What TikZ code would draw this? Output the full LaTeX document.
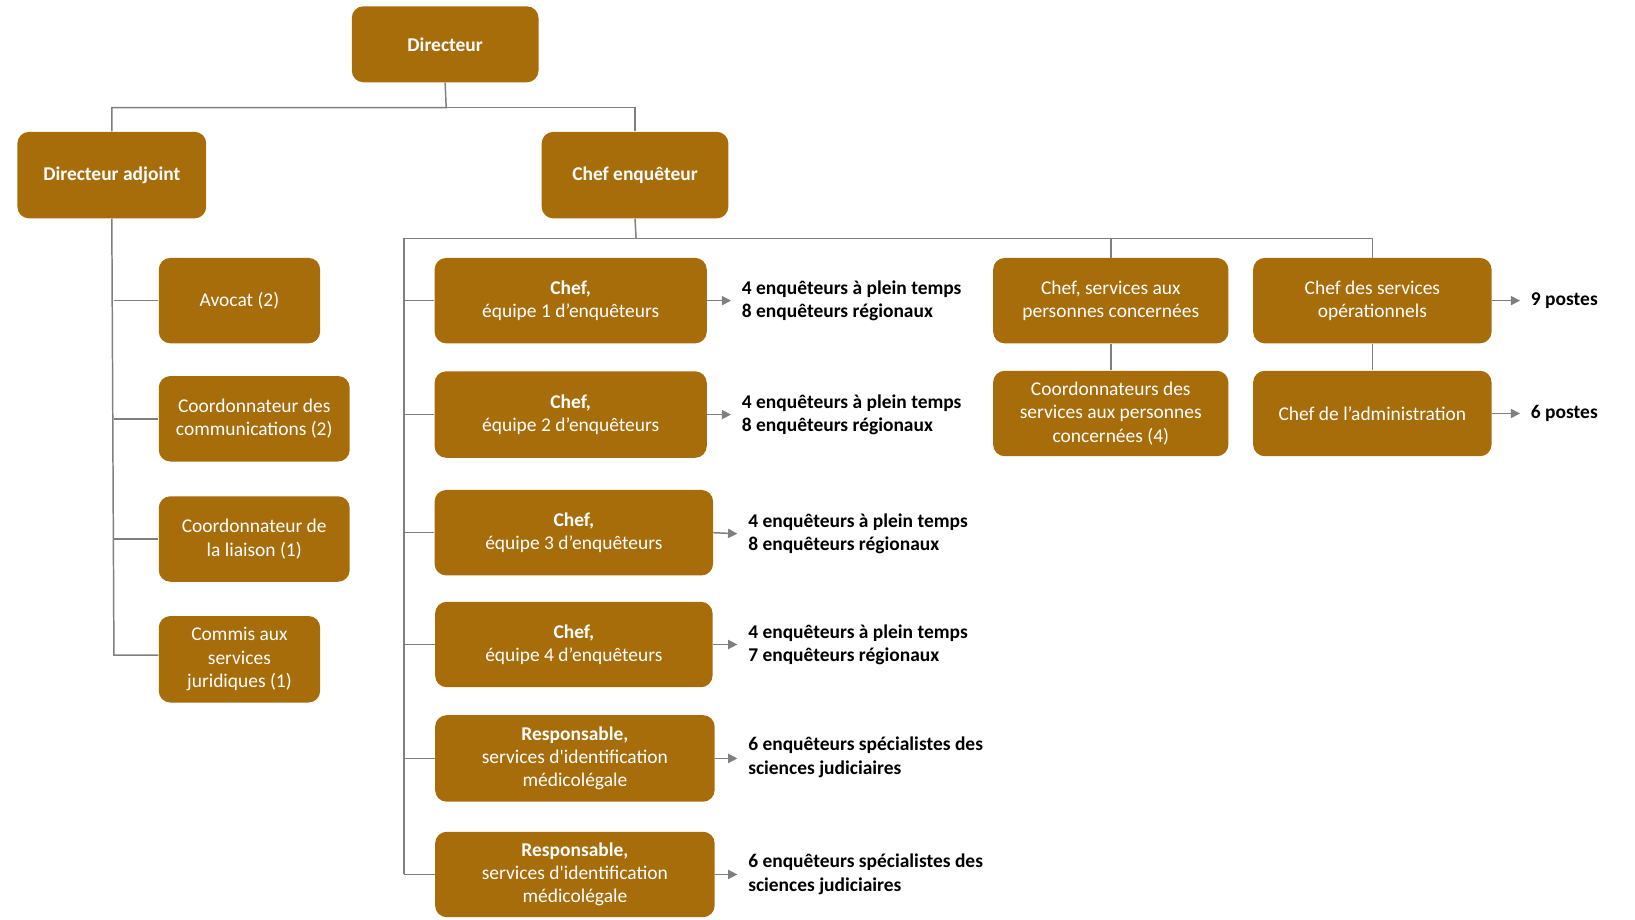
\documentclass[tikz,border=0pt]{standalone}
\usepackage{fontspec}
\setmainfont{Carlito}
\usepackage{textcomp}
\usetikzlibrary{arrows.meta}
\definecolor{brn}{HTML}{A86D0B}
\definecolor{ln}{HTML}{7F7F7F}
\begin{document}
\begin{tikzpicture}[x=0.02cm,y=-0.02cm,
 box/.style={fill=brn,rounded corners=0.22cm,text=white,align=center,font=\fontsize{10.5}{12.6}\selectfont,inner sep=0pt},
 wire/.style={draw=ln,line width=0.8pt},
 arr/.style={draw=ln,line width=0.8pt,-{Triangle[length=5pt,width=5pt]}},
 lab/.style={anchor=west,align=left,font=\fontsize{10.5}{12.6}\selectfont\bfseries,inner sep=0pt}]
\useasboundingbox (0,0) rectangle (1550,872);
\newcommand\bx[6]{\node[box,minimum width={(#3)*0.02cm},minimum height={(#4)*0.02cm}] (#5) at (#1,#2) {#6};}
\bx{422}{42}{177}{72}{dir}{\bfseries Directeur}
\bx{106}{166}{179}{82}{adj}{\bfseries Directeur adjoint}
\bx{602}{166}{177}{82}{ce}{\bfseries Chef enquêteur}
\bx{227}{285}{153}{81}{av}{Avocat (2)}
\bx{241}{397}{181}{81}{cc}{Coordonnateur des\\communications (2)}
\bx{241}{511}{181}{81}{cl}{Coordonnateur de\\la liaison (1)}
\bx{227}{625}{153}{82}{cm}{Commis aux\\services\\juridiques (1)}
\bx{541}{285}{258}{81}{e1}{\textbf{Chef,}\\équipe 1 d’enquêteurs}
\bx{541}{393}{258}{82}{e2}{\textbf{Chef,}\\équipe 2 d’enquêteurs}
\bx{544}{505}{264}{81}{e3}{\textbf{Chef,}\\équipe 3 d’enquêteurs}
\bx{544}{611}{263}{81}{e4}{\textbf{Chef,}\\équipe 4 d’enquêteurs}
\bx{545}{719}{265}{82}{r1}{\textbf{Responsable,}\\services d\textquotesingle identification\\médicolégale}
\bx{545}{829}{265}{81}{r2}{\textbf{Responsable,}\\services d\textquotesingle identification\\médicolégale}
\bx{1053}{285}{223}{81}{sp}{Chef, services aux\\personnes concernées}
\bx{1053}{392}{223}{81}{co}{Coordonnateurs des\\services aux personnes\\concernées (4)}
\bx{1301}{285}{226}{81}{so}{Chef des services\\opérationnels}
\bx{1301}{392}{226}{81}{ad}{Chef de l’administration}
% connectors
\coordinate (t1) at (423,102);
\draw[wire] (dir.south) -- (t1) -| (adj.north);
\draw[wire] (t1) -| (ce.north);
\draw[wire] (adj.south) -- (108,621) -- (cm.west |- 0,621);
\foreach \n in {av,cc,cl} \draw[wire] (108,0 |- \n.west) -- (\n.west);
\coordinate (t2) at (603,226);
\draw[wire] (ce.south) -- (t2);
\draw[wire] (383,226) -| (so.north);
\draw[wire] (1053,226) -- (sp.north);
\draw[wire] (383,226) -- (383,829);
\foreach \n in {e1,e2,e3,e4,r1,r2} \draw[wire] (383,0 |- \n.west) -- (\n.west);
\draw[wire] (sp.south) -- (co.north);
\draw[wire] (so.south) -- (ad.north);
% labels
\node[lab] (l1) at (703,285) {4 enquêteurs à plein temps\\8 enquêteurs régionaux};
\node[lab] (l2) at (703,393) {4 enquêteurs à plein temps\\8 enquêteurs régionaux};
\node[lab] (l3) at (709,506) {4 enquêteurs à plein temps\\8 enquêteurs régionaux};
\node[lab] (l4) at (709,611) {4 enquêteurs à plein temps\\7 enquêteurs régionaux};
\node[lab] (l5) at (709,718) {6 enquêteurs spécialistes des\\sciences judiciaires};
\node[lab] (l6) at (709,829) {6 enquêteurs spécialistes des\\sciences judiciaires};
\node[lab] (l7) at (1451,285) {9 postes};
\node[lab] (l8) at (1451,392) {6 postes};
\draw[arr] (e1.east) -- ([xshift=-0.2cm]l1.west);
\draw[arr] (e2.east) -- ([xshift=-0.2cm]l2.west);
\draw[arr] (e3.east) -- ([xshift=-0.2cm]l3.west);
\draw[arr] (e4.east) -- ([xshift=-0.2cm]l4.west);
\draw[arr] (r1.east) -- ([xshift=-0.2cm]l5.west |- r1.east);
\draw[arr] (r2.east) -- ([xshift=-0.2cm]l6.west |- r2.east);
\draw[arr] (so.east) -- ([xshift=-0.2cm]l7.west);
\draw[arr] (ad.east) -- ([xshift=-0.2cm]l8.west);
\end{tikzpicture}
\end{document}
